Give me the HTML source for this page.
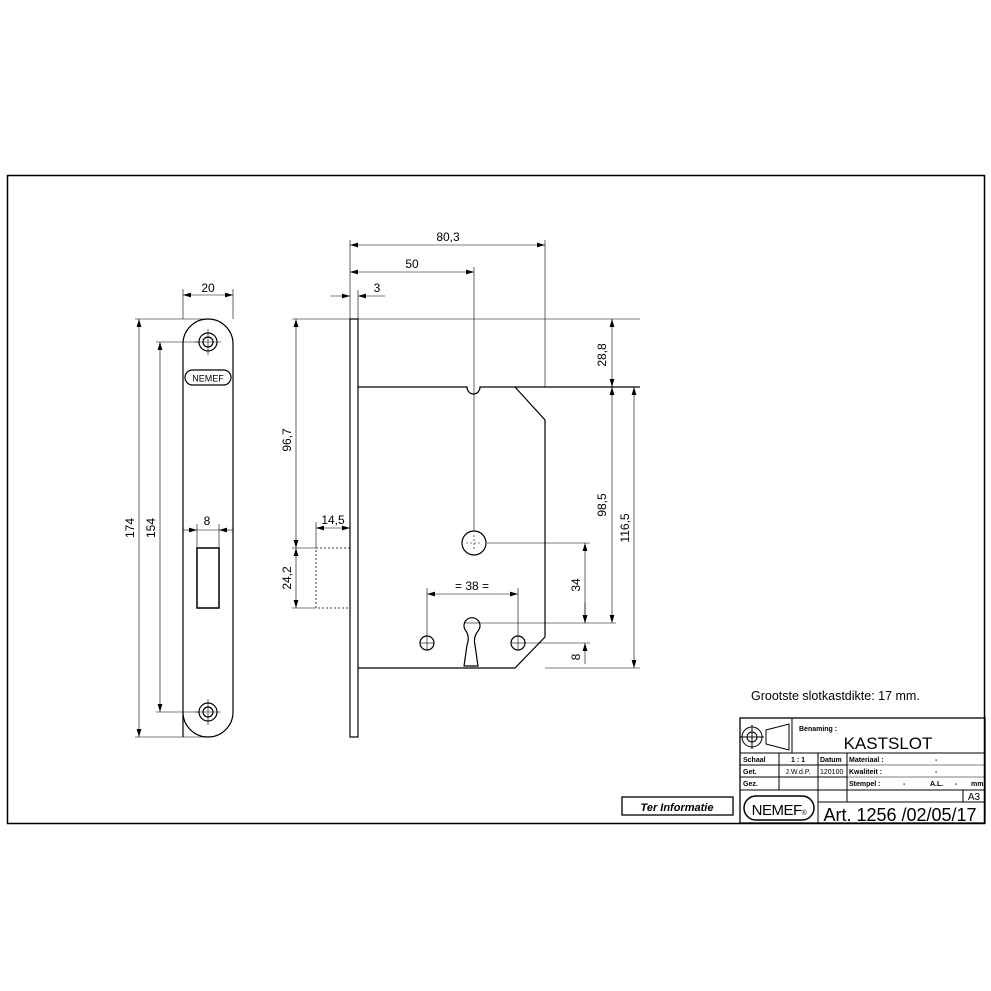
<!DOCTYPE html>
<html><head><meta charset="utf-8"><style>
html,body{margin:0;padding:0;background:#fff;}
svg{display:block;}
text{font-family:"Liberation Sans",sans-serif;fill:#000;}
</style></head><body>
<svg width="991" height="991" viewBox="0 0 991 991" xmlns="http://www.w3.org/2000/svg">
<defs>
<marker id="a" viewBox="0 0 10 6" refX="10" refY="3" markerWidth="8" markerHeight="5" orient="auto-start-reverse" markerUnits="userSpaceOnUse"><path d="M0,0L10,3L0,6z" fill="#000"/></marker>
</defs>
<rect x="0" y="0" width="991" height="991" fill="#fff"/>
<rect x="7.5" y="175.5" width="977" height="648" fill="none" stroke="#000" stroke-width="1.5"/>
<g stroke="#000" fill="none" stroke-width="1.2">
<!-- faceplate front -->
<path d="M183,737 L183,344 A25,25 0 0 1 233,344 L233,712 A25,25 0 0 1 183,712 Z"/>
<circle cx="208" cy="342" r="9"/><circle cx="208" cy="342" r="5"/>
<circle cx="208" cy="712" r="9"/><circle cx="208" cy="712" r="5"/>
<rect x="185" y="370" width="46" height="15" rx="7.5"/>
<rect x="197" y="548" width="22" height="60" stroke-width="1.5"/>
</g>
<g stroke="#000" stroke-width="0.6" fill="none">
<line x1="208" y1="329" x2="208" y2="355"/><line x1="195" y1="342" x2="221" y2="342"/>
<line x1="208" y1="699" x2="208" y2="725"/><line x1="195" y1="712" x2="221" y2="712"/>
<!-- dims front -->
<line x1="183" y1="289" x2="183" y2="319"/><line x1="233" y1="289" x2="233" y2="319"/>
<line x1="183" y1="295" x2="233" y2="295" marker-start="url(#a)" marker-end="url(#a)"/>
<line x1="135" y1="319" x2="208" y2="319"/><line x1="135" y1="737" x2="208" y2="737"/>
<line x1="139" y1="319" x2="139" y2="737" marker-start="url(#a)" marker-end="url(#a)"/>
<line x1="156" y1="342" x2="200" y2="342"/><line x1="156" y1="712" x2="200" y2="712"/>
<line x1="160" y1="342" x2="160" y2="712" marker-start="url(#a)" marker-end="url(#a)"/>
<line x1="197" y1="524" x2="197" y2="548"/><line x1="219" y1="524" x2="219" y2="548"/>
<line x1="183" y1="530" x2="197" y2="530" marker-end="url(#a)"/><line x1="233" y1="530" x2="219" y2="530" marker-end="url(#a)"/>
<line x1="197" y1="530" x2="219" y2="530"/>
</g>
<text x="208" y="292" font-size="12" text-anchor="middle">20</text>
<text x="0" y="0" font-size="12" text-anchor="middle" transform="translate(134,528) rotate(-90)">174</text>
<text x="0" y="0" font-size="12" text-anchor="middle" transform="translate(155,528) rotate(-90)">154</text>
<text x="207" y="525" font-size="12" text-anchor="middle">8</text>
<text x="208" y="381.5" font-size="9" text-anchor="middle">NEMEF</text>

<!-- side view -->
<g stroke="#000" fill="none" stroke-width="1.2">
<rect x="350" y="319" width="8" height="418"/>
<path d="M358,387 L467,387 A6.5,7 0 0 0 480,387 L640,387"/>
<path d="M515,387 L545,420 L545,637 L515,668 L358,668"/>
<rect x="316" y="548" width="34" height="60" stroke-dasharray="2,2" stroke-width="0.8"/>
<circle cx="474" cy="543" r="12"/>
<circle cx="427" cy="643" r="7"/><circle cx="518" cy="643" r="7"/>
<path d="M466,631 A8,8 0 1 1 478,631 Q473,637 475,645 L478,666 L464,666 L467,645 Q470,637 466,631 Z"/>
</g>
<g stroke="#000" stroke-width="0.6" fill="none">
<line x1="466" y1="543" x2="482" y2="543" stroke-dasharray="2,2"/><line x1="474" y1="535" x2="474" y2="551" stroke-dasharray="2,2"/>
<line x1="420" y1="643" x2="434" y2="643"/><line x1="427" y1="636" x2="427" y2="650"/>
<line x1="511" y1="643" x2="525" y2="643"/><line x1="518" y1="636" x2="518" y2="650"/>
<line x1="464" y1="623" x2="480" y2="623"/>
<!-- dims side -->
<line x1="350" y1="240" x2="350" y2="319"/><line x1="545" y1="240" x2="545" y2="387"/>
<line x1="350" y1="245" x2="545" y2="245" marker-start="url(#a)" marker-end="url(#a)"/>
<line x1="474" y1="267" x2="474" y2="531"/>
<line x1="350" y1="272" x2="474" y2="272" marker-start="url(#a)" marker-end="url(#a)"/>
<line x1="358" y1="290" x2="358" y2="319"/>
<line x1="330" y1="296" x2="350" y2="296" marker-end="url(#a)"/><line x1="385" y1="296" x2="358" y2="296" marker-end="url(#a)"/>
<line x1="292" y1="319" x2="350" y2="319"/><line x1="358" y1="319" x2="640" y2="319"/>
<line x1="292" y1="548" x2="316" y2="548"/><line x1="292" y1="608" x2="316" y2="608"/>
<line x1="296" y1="319" x2="296" y2="548" marker-start="url(#a)" marker-end="url(#a)"/>
<line x1="296" y1="548" x2="296" y2="608" marker-start="url(#a)" marker-end="url(#a)"/>
<line x1="316" y1="522" x2="316" y2="548"/>
<line x1="316" y1="528" x2="350" y2="528" marker-start="url(#a)" marker-end="url(#a)"/>
<line x1="427" y1="588" x2="427" y2="636"/><line x1="518" y1="588" x2="518" y2="636"/>
<line x1="427" y1="594" x2="518" y2="594" marker-start="url(#a)" marker-end="url(#a)"/>
<line x1="487" y1="543" x2="590" y2="543"/>
<line x1="480" y1="623" x2="616" y2="623"/>
<line x1="525" y1="643" x2="590" y2="643"/>
<line x1="545" y1="668" x2="640" y2="668"/>
<line x1="612" y1="319" x2="612" y2="387" marker-start="url(#a)" marker-end="url(#a)"/>
<line x1="612" y1="387" x2="612" y2="623" marker-start="url(#a)" marker-end="url(#a)"/>
<line x1="634" y1="387" x2="634" y2="668" marker-start="url(#a)" marker-end="url(#a)"/>
<line x1="585" y1="543" x2="585" y2="623" marker-start="url(#a)" marker-end="url(#a)"/>
<line x1="585" y1="603" x2="585" y2="623" marker-end="url(#a)"/><line x1="585" y1="664" x2="585" y2="643" marker-end="url(#a)"/>
</g>
<text x="448" y="241" font-size="12" text-anchor="middle">80,3</text>
<text x="412" y="268" font-size="12" text-anchor="middle">50</text>
<text x="377" y="292" font-size="12" text-anchor="middle">3</text>
<text x="333" y="524" font-size="12" text-anchor="middle">14,5</text>
<text x="472" y="590" font-size="12" text-anchor="middle">= 38 =</text>
<text font-size="12" text-anchor="middle" transform="translate(291,440) rotate(-90)">96,7</text>
<text font-size="12" text-anchor="middle" transform="translate(291,578) rotate(-90)">24,2</text>
<text font-size="12" text-anchor="middle" transform="translate(606,355) rotate(-90)">28,8</text>
<text font-size="12" text-anchor="middle" transform="translate(606,505) rotate(-90)">98,5</text>
<text font-size="12" text-anchor="middle" transform="translate(629,528) rotate(-90)">116,5</text>
<text font-size="12" text-anchor="middle" transform="translate(580,585) rotate(-90)">34</text>
<text font-size="12" text-anchor="middle" transform="translate(580,657) rotate(-90)">8</text>

<text x="751" y="700" font-size="12.5">Grootste slotkastdikte: 17 mm.</text>

<!-- title block -->
<g stroke="#000" fill="none" stroke-width="1">
<rect x="740" y="718" width="245" height="105" stroke-width="1.3"/>
<line x1="740" y1="753" x2="985" y2="753"/>
<line x1="792" y1="718" x2="792" y2="753"/>
<line x1="740" y1="765" x2="847" y2="765"/><line x1="740" y1="777" x2="847" y2="777"/>
<line x1="740" y1="790" x2="847" y2="790"/>
<line x1="847" y1="765" x2="985" y2="765" stroke-width="0.5"/><line x1="847" y1="777" x2="985" y2="777" stroke-width="0.5"/>
<line x1="847" y1="790" x2="985" y2="790"/>
<line x1="818" y1="802" x2="985" y2="802"/>
<line x1="779" y1="753" x2="779" y2="790"/>
<line x1="818" y1="753" x2="818" y2="823"/>
<line x1="847" y1="753" x2="847" y2="802"/>
<rect x="963" y="790" width="22" height="12"/>
<circle cx="752" cy="737" r="10"/><circle cx="752" cy="737" r="5"/>
<line x1="740" y1="737" x2="764" y2="737"/><line x1="752" y1="725" x2="752" y2="749"/>
<path d="M766,730 L789,724 L789,750 L766,744 Z"/>
<rect x="744" y="796" width="70" height="24" rx="12" stroke-width="1.5"/>
<rect x="622" y="797" width="111" height="18" stroke-width="1.3"/>
</g>
<text x="799" y="731" font-size="7" font-weight="bold">Benaming :</text>
<text x="888" y="749" font-size="17" text-anchor="middle">KASTSLOT</text>
<g font-size="7" font-weight="bold">
<text x="743" y="762">Schaal</text><text x="798" y="762" text-anchor="middle">1 : 1</text><text x="820" y="762">Datum</text><text x="849" y="762">Materiaal :</text><text x="935" y="762">-</text>
<text x="743" y="774">Get.</text><text x="798" y="774" text-anchor="middle" font-weight="normal">J.W.d.P.</text><text x="820" y="774" font-weight="normal">120100</text><text x="849" y="774">Kwaliteit :</text><text x="935" y="774">-</text>
<text x="743" y="786">Gez.</text><text x="849" y="786">Stempel :</text><text x="903" y="786">-</text><text x="930" y="786">A.L.</text><text x="955" y="786">-</text><text x="971" y="786">mm</text>
</g>
<text x="974" y="800" font-size="10" text-anchor="middle">A3</text>
<text x="779" y="815" font-size="15" text-anchor="middle" letter-spacing="-0.5">NEMEF<tspan font-size="7">®</tspan></text>
<text x="900" y="821" font-size="18" text-anchor="middle">Art. 1256 /02/05/17</text>
<text x="677" y="811" font-size="11" font-weight="bold" font-style="italic" text-anchor="middle">Ter Informatie</text>
</svg>
</body></html>
